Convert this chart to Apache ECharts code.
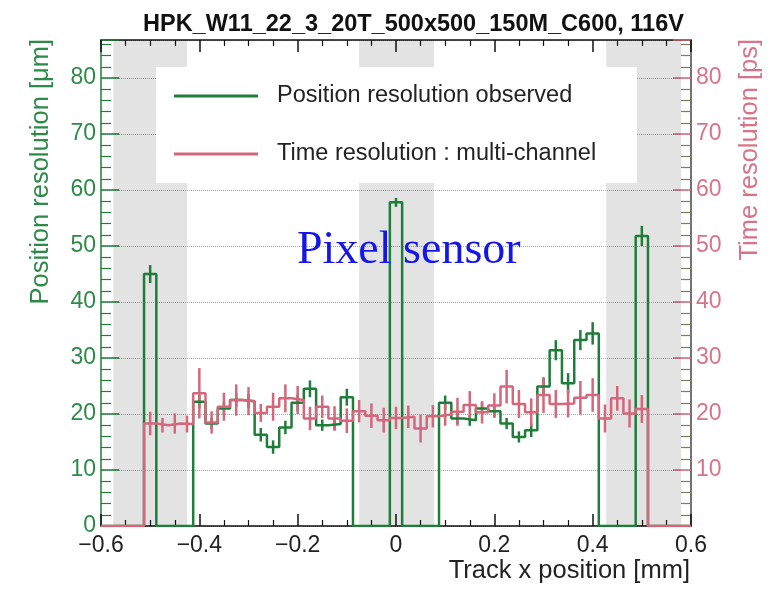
<!DOCTYPE html>
<html>
<head>
<meta charset="utf-8">
<title>Pixel sensor resolution</title>
<script src="https://cdn.jsdelivr.net/npm/echarts@6/dist/echarts.min.js"></script>
<style>html,body{margin:0;padding:0;background:#fff}</style>
</head>
<body>
<div id="main" style="width:769px;height:592px"></div>
<script>
// binning of the histograms (41 bins, 25 um wide)
var binLow = -0.5125;
var binWidth = 0.025;

// position resolution observed [um], one value per bin
var posRes = [45.0, 0, 0, 0, 22.2, 18.3, 21.0, 22.5, 22.3, 16.3,
              14.1, 17.6, 22.0, 24.5, 18.0, 18.2, 23.0, 0, 0, 0,
              57.8, 0, 0, 0, 22.0, 19.2, 18.9, 21.0, 20.5, 18.3,
              15.9, 17.1, 24.9, 31.4, 25.5, 33.2, 34.4, 0, 0, 0,
              51.8];
var posErr = [1.6, 0, 0, 0, 1.2, 1.0, 1.2, 1.2, 1.2, 1.2,
              1.2, 1.2, 1.5, 1.5, 1.0, 1.0, 1.5, 0, 0, 0,
              0.8, 0, 0, 0, 1.3, 1.0, 1.0, 1.0, 1.0, 1.0,
              1.0, 1.2, 1.5, 1.8, 1.8, 1.8, 2.0, 0, 0, 0,
              1.8];

// time resolution multi-channel [ps]
var timeRes = [18.3, 18.0, 18.3, 18.2, 23.7, 18.5, 21.3, 22.5, 22.3, 20.2,
               21.3, 22.8, 22.5, 19.2, 21.3, 19.2, 18.8, 20.5, 19.7, 18.9,
               19.3, 19.5, 17.4, 19.6, 19.9, 20.4, 21.6, 20.3, 21.5, 24.9,
               21.8, 20.3, 23.4, 21.8, 21.9, 22.9, 23.4, 19.2, 22.8, 20.1,
               20.9];
var timeErr = [2.1, 1.3, 1.8, 1.5, 4.5, 2.0, 2.5, 2.8, 2.5, 1.6,
               2.5, 2.5, 2.5, 2.1, 2.0, 2.2, 2.2, 2.0, 2.2, 2.2,
               2.0, 2.0, 2.5, 2.0, 2.0, 2.5, 2.5, 2.0, 2.2, 3.0,
               2.5, 2.5, 3.2, 2.5, 2.5, 3.0, 3.0, 2.5, 2.2, 2.5,
               2.5];

// grey regions (inter-pixel gaps) [mm]
var bands = [[-0.575, -0.425], [-0.075, 0.0775], [0.4275, 0.58]];

var green = '#1f7d3a';
var greenTxt = '#2d8a48';
var pink = '#d4677c';
var pinkTxt = '#d8738a';
var font = 'Liberation Sans';
var yMax = 86.8;

function steps(vals) {
  var pts = [[-0.6, 0], [binLow, 0]];
  for (var i = 0; i < vals.length; i++) {
    var x0 = binLow + i * binWidth;
    pts.push([x0, vals[i]], [x0 + binWidth, vals[i]]);
  }
  pts.push([binLow + vals.length * binWidth, 0], [0.6, 0]);
  return pts;
}

function errs(vals, e) {
  var out = [];
  for (var i = 0; i < vals.length; i++) {
    if (vals[i] > 0) out.push([binLow + (i + 0.5) * binWidth, vals[i], e[i]]);
  }
  return out;
}

function errRender(color) {
  return function (params, api) {
    var c = api.value(0), v = api.value(1), e = api.value(2);
    var p1 = api.coord([c, v - e]);
    var p2 = api.coord([c, v + e]);
    return {
      type: 'line',
      shape: { x1: p1[0], y1: p1[1], x2: p2[0], y2: p2[1] },
      style: { stroke: color, lineWidth: 2.5 }
    };
  };
}

function minus(v) {
  return String(v).replace('-', '\u2212');
}

var myChart = echarts.init(document.getElementById('main'), null, { renderer: 'canvas' });

var xBase = {
  type: 'value', min: -0.6, max: 0.6, interval: 0.2,
  axisLine: { onZero: false, lineStyle: { color: '#111', width: 1.5 } },
  axisTick: { inside: true, length: 12, lineStyle: { color: '#111', width: 1.5 } },
  minorTick: { show: true, splitNumber: 4, length: 6, lineStyle: { color: '#111', width: 1.2 } },
  splitLine: { show: false }
};

var option = {
  animation: false,
  backgroundColor: '#fff',
  title: {
    text: 'HPK_W11_22_3_20T_500x500_150M_C600, 116V',
    left: 143, top: 13, padding: 0,
    textStyle: { fontFamily: font, fontSize: 23.5, fontWeight: 'bold', color: '#111' }
  },
  grid: { left: 101, right: 78, top: 40, bottom: 66 },
  legend: {
    orient: 'vertical', left: 174, top: 84, itemGap: 34, padding: 0,
    itemWidth: 84, itemHeight: 3, icon: 'rect',
    selectedMode: false, z: 10,
    data: ['Position resolution observed', 'Time resolution : multi-channel'],
    textStyle: { fontFamily: font, fontSize: 23.5, color: '#222', lineHeight: 24, padding: [0, 0, 0, 14] }
  },
  xAxis: [
    Object.assign({}, xBase, {
      position: 'bottom',
      axisLabel: { fontFamily: font, fontSize: 23, color: '#222', margin: 8, formatter: minus }
    }),
    Object.assign({}, xBase, { position: 'top', axisLabel: { show: false } })
  ],
  yAxis: [
    {
      type: 'value', position: 'left', min: 0, max: yMax, interval: 10,
      axisLine: { show: true, onZero: false, lineStyle: { color: green, width: 1.5 } },
      axisTick: { inside: true, length: 18, lineStyle: { color: green, width: 1.5 } },
      minorTick: { show: true, splitNumber: 5, length: 10, lineStyle: { color: green, width: 1.2 } },
      axisLabel: { fontFamily: font, fontSize: 23, color: greenTxt, margin: 5, showMaxLabel: false },
      splitLine: { show: true, lineStyle: { type: 'dotted', color: '#aaa', width: 1 } }
    },
    {
      type: 'value', position: 'right', min: 0, max: yMax, interval: 10,
      axisLine: { show: true, onZero: false, lineStyle: { color: '#444', width: 1.5 } },
      axisTick: { inside: true, length: 18, lineStyle: { color: pink, width: 1.5 } },
      minorTick: { show: true, splitNumber: 5, length: 10, lineStyle: { color: '#7d7d60', width: 1.2 } },
      axisLabel: { fontFamily: font, fontSize: 23, color: pinkTxt, margin: 5, showMinLabel: false, showMaxLabel: false },
      splitLine: { show: false }
    }
  ],
  graphic: [
    { type: 'rect', z: 3, shape: { x: 156, y: 67, width: 481, height: 116 }, style: { fill: '#fff' } },
    {
      type: 'text', z: 6, x: 297, y: 274,
      style: { text: 'Pixel sensor', fontFamily: 'Liberation Serif', fontSize: 46, fill: '#1515e8', textVerticalAlign: 'bottom' }
    },
    {
      type: 'text', x: 41, y: 39, rotation: Math.PI / 2,
      style: { text: 'Position resolution [\u03bcm]', fontFamily: font, fontSize: 25.5, fill: greenTxt, textAlign: 'right', textVerticalAlign: 'middle' }
    },
    {
      type: 'text', x: 750, y: 39, rotation: Math.PI / 2,
      style: { text: 'Time resolution [ps]', fontFamily: font, fontSize: 25.5, fill: pinkTxt, textAlign: 'right', textVerticalAlign: 'middle' }
    },
    {
      type: 'text', x: 690, y: 571,
      style: { text: 'Track x position [mm]', fontFamily: font, fontSize: 25.5, fill: '#222', textAlign: 'right', textVerticalAlign: 'middle' }
    }
  ],
  series: [
    {
      name: 'bands', type: 'custom', z: 1, silent: true,
      data: bands,
      renderItem: function (params, api) {
        var a = api.coord([api.value(0), yMax]);
        var b = api.coord([api.value(1), 0]);
        return { type: 'rect', shape: { x: a[0], y: a[1], width: b[0] - a[0], height: b[1] - a[1] }, style: { fill: 'rgba(0,0,0,0.11)' } };
      }
    },
    {
      name: 'Position resolution observed', type: 'line', yAxisIndex: 0,
      data: steps(posRes), showSymbol: false, symbol: 'none',
      lineStyle: { color: green, width: 2.5 }, itemStyle: { color: green }
    },
    {
      name: 'posErr', type: 'custom', yAxisIndex: 0, data: errs(posRes, posErr),
      renderItem: errRender(green)
    },
    {
      name: 'Time resolution : multi-channel', type: 'line', yAxisIndex: 1,
      data: steps(timeRes), showSymbol: false, symbol: 'none',
      lineStyle: { color: pink, width: 2.5 }, itemStyle: { color: pink }
    },
    {
      name: 'timeErr', type: 'custom', yAxisIndex: 1, data: errs(timeRes, timeErr),
      renderItem: errRender(pink)
    }
  ]
};

myChart.setOption(option);
</script>
</body>
</html>
